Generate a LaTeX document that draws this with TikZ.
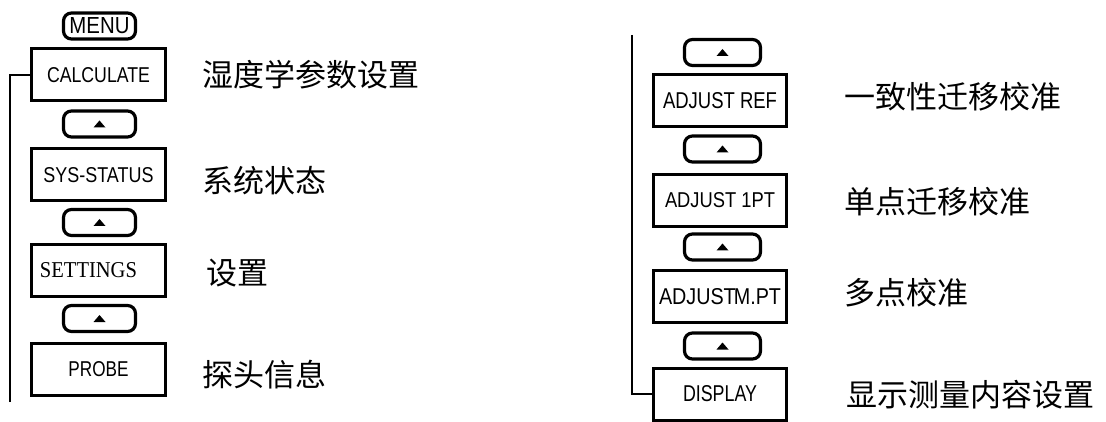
\documentclass[tikz,border=0pt]{standalone}
\usepackage{fontspec}
\usepackage{graphicx}
\setsansfont{Liberation Sans}
\setmainfont{Liberation Serif}
\newfontfamily\cjk{Noto Sans CJK SC}
\usetikzlibrary{calc}
\newcommand{\bt}[3]{\resizebox{#1pt}{#2pt}{#3}}
\begin{document}
\begin{tikzpicture}[x=1pt,y=-1pt,
  box/.style={draw,line width=3pt,minimum width=134pt,minimum height=52pt,inner sep=0pt},
  rbox/.style={box,minimum width=133pt},
  pill/.style={draw,line width=3.2pt,rounded corners=8pt,minimum width=72pt,minimum height=26pt,inner sep=0pt},
  rpill/.style={pill,minimum width=76pt},
  lab/.style={anchor=west,font=\cjk\fontsize{31}{31}\selectfont,inner sep=0pt},
  wire/.style={line width=2.5pt},
  tri/.style={fill=black}]
\useasboundingbox (0,0) rectangle (1106,422);
% left column
\node[pill] (menu) at (99.5,26) {\bt{60}{16}{\sffamily MENU}};
\node[box] (calc) at (98.5,75) {\bt{103}{15}{\sffamily CALCULATE}};
\node[pill] (p1) at (99.5,124) {};
\node[box] (sys) at (98.5,175) {\bt{110}{15}{\sffamily SYS-STATUS}};
\node[pill] (p2) at (99.5,222.5) {};
\node[box] (set) at (98.5,270.5) {\bt{97}{15}{\rmfamily SETTINGS}\hspace*{20pt}};
\node[pill] (p3) at (99.5,318.5) {};
\node[box] (probe) at (98.5,369.5) {\bt{60}{15}{\sffamily PROBE}};
\coordinate (lend) at (10,402);
\draw[wire] (lend) |- (calc.west);
% right column
\coordinate (rtop) at (632,35);
\node[rpill] (q0) at (722.5,52.5) {};
\node[rbox] (aref) at (720,100.5) {\bt{114}{16}{\sffamily ADJUST REF}};
\node[rpill] (q1) at (722.5,149) {};
\node[rbox] (a1pt) at (720,200.5) {\bt{110}{15}{\sffamily ADJUST 1PT}};
\node[rpill] (q2) at (722.5,247) {};
\node[rbox] (ampt) at (720,296.5) {\bt{122}{16}{\sffamily ADJUST\kern-1pt M.PT}};
\node[rpill] (q3) at (722.5,346) {};
\node[rbox] (disp) at (720,394) {\bt{74}{16}{\sffamily DISPLAY}};
\draw[wire] (rtop) |- (disp.west);
% triangles
\foreach \p in {p1,p2,p3,q0,q1,q2,q3}
  \fill[tri] ($(\p.center)+(-6,3.5)$) -- ++(12,0) -- ++(-6,-7) -- cycle;
% labels
\node[lab] (l1) at (202,75) {湿度学参数设置};
\node[lab] (l2) at (202,181) {系统状态};
\node[lab] (l3) at (206,273) {设置};
\node[lab] (l4) at (202,375) {探头信息};
\node[lab] (r1) at (844,97) {一致性迁移校准};
\node[lab] (r2) at (844,202) {单点迁移校准};
\node[lab] (r3) at (844,293) {多点校准};
\node[lab] (r4) at (846,395) {显示测量内容设置};
\end{tikzpicture}
\end{document}
